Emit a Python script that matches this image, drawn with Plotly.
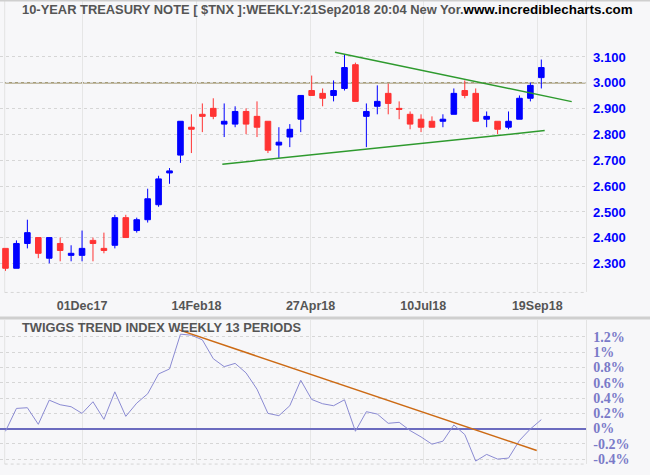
import plotly.graph_objects as go
import pandas as pd

# ---------------- data ----------------
week_dates = pd.date_range("2017-10-13", periods=50, freq="7D").strftime("%d%b%y").tolist()

opens = [2.359, 2.282, 2.378, 2.401, 2.321, 2.378, 2.332, 2.332, 2.390, 2.359,
         2.371, 2.478, 2.428, 2.470, 2.528, 2.651, 2.720, 2.828, 2.878, 2.901,
         2.840, 2.840, 2.889, 2.870, 2.851, 2.759, 2.790, 2.859, 2.970, 2.959,
         2.951, 2.978, 3.070, 2.870, 2.909, 2.959, 2.901, 2.878, 2.859, 2.851,
         2.851, 2.878, 2.970, 2.959, 2.859, 2.851, 2.828, 2.859, 2.940, 3.020]
highs = [2.359, 2.390, 2.470, 2.401, 2.401, 2.401, 2.371, 2.428, 2.401, 2.420,
         2.489, 2.489, 2.478, 2.590, 2.640, 2.670, 2.851, 2.878, 2.920, 2.940,
         2.920, 2.909, 2.901, 2.928, 2.851, 2.828, 2.840, 2.951, 3.028, 2.978,
         3.009, 3.109, 3.078, 2.920, 2.990, 2.997, 2.928, 2.889, 2.878, 2.870,
         2.878, 2.978, 3.009, 2.978, 2.889, 2.851, 2.889, 2.951, 3.001, 3.090]
lows = [2.272, 2.282, 2.359, 2.321, 2.301, 2.309, 2.309, 2.309, 2.309, 2.340,
        2.359, 2.401, 2.420, 2.459, 2.520, 2.609, 2.690, 2.728, 2.809, 2.859,
        2.790, 2.828, 2.801, 2.790, 2.728, 2.709, 2.751, 2.809, 2.951, 2.909,
        2.928, 2.970, 2.928, 2.751, 2.878, 2.878, 2.859, 2.820, 2.809, 2.828,
        2.828, 2.878, 2.940, 2.851, 2.828, 2.801, 2.820, 2.859, 2.928, 2.978]
closes = [2.282, 2.378, 2.420, 2.340, 2.401, 2.351, 2.340, 2.359, 2.378, 2.351,
          2.478, 2.401, 2.470, 2.551, 2.628, 2.659, 2.851, 2.820, 2.870, 2.870,
          2.851, 2.889, 2.840, 2.828, 2.739, 2.770, 2.820, 2.951, 2.951, 2.940,
          2.970, 3.059, 2.928, 2.889, 2.928, 2.920, 2.897, 2.840, 2.828, 2.828,
          2.859, 2.959, 2.951, 2.851, 2.870, 2.820, 2.851, 2.940, 2.990, 3.059]

tti = [-0.035, 0.264, 0.273, 0.056, 0.372, 0.312, 0.286, 0.199, 0.351, 0.121,
       0.481, 0.160, 0.333, 0.455, 0.715, 0.780, 1.235, 1.222, 1.161, 0.914,
       0.810, 0.853, 0.728, 0.515, 0.199, 0.169, 0.299, 0.632, 0.381, 0.325,
       0.299, 0.377, -0.035, 0.221, 0.190, 0.069, 0.082, -0.026, -0.109, -0.204,
       -0.165, 0.047, -0.078, -0.425, -0.338, -0.399, -0.386, -0.156, -0.005, 0.117]

tick_pos = [7.0, 17.47, 27.9, 38.2, 48.63]
tick_labels = ["01Dec17", "14Feb18", "27Apr18", "10Jul18", "19Sep18"]

price_ticks = [2.3, 2.4, 2.5, 2.6, 2.7, 2.8, 2.9, 3.0, 3.1]
price_tick_labels = ["2.300", "2.400", "2.500", "2.600", "2.700", "2.800", "2.900", "3.000", "3.100"]
tti_ticks = [-0.4, -0.2, 0, 0.2, 0.4, 0.6, 0.8, 1.0, 1.2]
tti_tick_labels = ["-0.4%", "-0.2%", "0%", "0.2%", "0.4%", "0.6%", "0.8%", "1%", "1.2%"]

upper_trend_x = [30.13, 51.78]
upper_trend_y = [3.118, 2.927]
lower_trend_x = [19.83, 49.31]
lower_trend_y = [2.685, 2.815]
tti_trend_x = [15.87, 48.58]
tti_trend_y = [1.291, -0.286]

title_main = "10-YEAR TREASURY NOTE [ $TNX ]:WEEKLY:21Sep2018 20:04 New Yor."
title_site = "www.incrediblecharts.com"
title_tti = "TWIGGS TREND INDEX WEEKLY 13 PERIODS"

# ---------------- figure ----------------
W, H = 650, 475
BG = "#f7f7f9"
SANS = "Liberation Sans, Arial, sans-serif"
idx = list(range(len(opens)))

fig = go.Figure()

fig.add_trace(go.Scatter(x=upper_trend_x, y=upper_trend_y, mode="lines",
                         line=dict(color="#2e9a2e", width=1.5), xaxis="x", yaxis="y",
                         hoverinfo="skip", showlegend=False))
fig.add_trace(go.Scatter(x=lower_trend_x, y=lower_trend_y, mode="lines",
                         line=dict(color="#2e9a2e", width=1.5), xaxis="x", yaxis="y",
                         hoverinfo="skip", showlegend=False))

fig.add_trace(go.Candlestick(
    x=idx, open=opens, high=highs, low=lows, close=closes,
    customdata=week_dates,
    increasing=dict(line=dict(color="#0000ff", width=1), fillcolor="#0000ff"),
    decreasing=dict(line=dict(color="#ff3333", width=1), fillcolor="#ff3333"),
    whiskerwidth=0, xaxis="x", yaxis="y", showlegend=False))

fig.add_trace(go.Scatter(x=idx, y=tti, mode="lines",
                         line=dict(color="#8a8ad2", width=1), xaxis="x2", yaxis="y2",
                         showlegend=False))
fig.add_trace(go.Scatter(x=tti_trend_x, y=tti_trend_y, mode="lines",
                         line=dict(color="#cc6a14", width=1.5), xaxis="x2", yaxis="y2",
                         hoverinfo="skip", showlegend=False))

xr = [-0.503, 53.04]
xdom = [0, 585.5 / W]
top_dom = [1 - 294.3 / H, 1.0]
bot_dom = [1 - 467 / H, 1 - 322 / H]

fig.update_layout(
    width=W, height=H, margin=dict(l=0, r=0, t=0, b=0),
    paper_bgcolor=BG, plot_bgcolor=BG, showlegend=False, boxgap=0.27,
    xaxis=dict(domain=xdom, range=xr, anchor="y", tickmode="array",
               tickvals=tick_pos, ticktext=tick_labels,
               tickfont=dict(family=SANS, size=12.5, color="#555555", weight="bold"),
               ticks="outside", ticklen=2, tickcolor=BG,
               showgrid=True, gridcolor="#e6e6e6", gridwidth=1, zeroline=False,
               rangeslider=dict(visible=False), showline=False),
    yaxis=dict(domain=top_dom, range=[2.1885, 3.3204], side="right", anchor="x",
               tickmode="array", tickvals=price_ticks, ticktext=price_tick_labels,
               tickfont=dict(family=SANS, size=13, color="#0000ff", weight="bold"),
               ticks="outside", ticklen=4, tickcolor=BG,
               showgrid=True, gridcolor="#d6d6d6", griddash="dot", zeroline=False,
               showline=True, linecolor="#e3e3e3", linewidth=1),
    xaxis2=dict(domain=xdom, range=xr, anchor="y2", tickmode="array",
                tickvals=tick_pos, showticklabels=False, ticks="",
                showgrid=True, gridcolor="#e6e6e6", gridwidth=1, zeroline=False),
    yaxis2=dict(domain=bot_dom, range=[-0.464, 1.421], side="right", anchor="x2",
                tickmode="array", tickvals=tti_ticks, ticktext=tti_tick_labels,
                tickfont=dict(family="Liberation Serif, Times New Roman, serif", size=14,
                              color="#7a7ac8", weight="bold"),
                ticks="outside", ticklen=4, tickcolor=BG,
                showgrid=True, gridcolor="#d6d6d6", griddash="dot",
                zeroline=True, zerolinecolor="#6b6bbf", zerolinewidth=1.5,
                showline=True, linecolor="#e3e3e3", linewidth=1),
)

shapes = [
    dict(type="line", xref="x domain", yref="y", x0=0.008, x1=1, y0=3.0, y1=3.0,
         line=dict(color="#8b7f4f", width=1.3), layer="below"),
    dict(type="line", xref="x", yref="y domain", x0=-0.073, x1=-0.073, y0=0, y1=1,
         line=dict(color="#e3e3e3", width=1), layer="below"),
    dict(type="line", xref="x2", yref="y2 domain", x0=-0.073, x1=-0.073, y0=0, y1=1,
         line=dict(color="#e3e3e3", width=1), layer="below"),
    dict(type="line", xref="x domain", yref="paper", x0=0.008, x1=1, y0=top_dom[0], y1=top_dom[0],
         line=dict(color="#d6d6d6", width=1, dash="dot")),
    dict(type="line", xref="x2 domain", yref="paper", x0=0.008, x1=1, y0=bot_dom[0], y1=bot_dom[0],
         line=dict(color="#d6d6d6", width=1, dash="dot")),
    dict(type="line", xref="paper", yref="paper", x0=0, x1=1, y0=1 - 320 / H, y1=1 - 320 / H,
         line=dict(color="#cfcfcf", width=3)),
    dict(type="line", xref="paper", yref="paper", x0=0, x1=1, y0=1 - 0.5 / H, y1=1 - 0.5 / H,
         line=dict(color="#cfcfcf", width=2)),
]
fig.update_layout(shapes=shapes)

fig.add_annotation(
    xref="paper", yref="paper", x=19.5 / W, y=1 - 10 / H, xanchor="left", yanchor="middle",
    showarrow=False,
    text=(f'<span style="color:#555555;font-size:12.9px">{title_main}</span>'
          f'<span style="color:#000000;font-size:13.4px">{title_site}</span>'),
    font=dict(family=SANS, size=13, weight="bold"))
fig.add_annotation(
    xref="paper", yref="paper", x=20 / W, y=1 - 330 / H, xanchor="left", yanchor="middle",
    showarrow=False, text=title_tti,
    font=dict(family=SANS, size=12.85, color="#555555", weight="bold"))

fig.write_html("out.html")
